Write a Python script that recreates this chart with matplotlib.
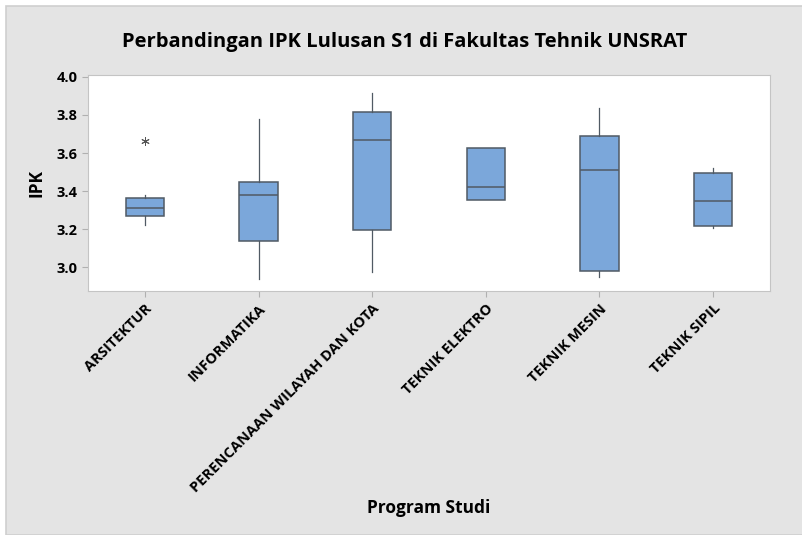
import matplotlib.pyplot as plt
from matplotlib.patches import Rectangle

# Program studi dan ringkasan boxplot IPK
programs = ["ARSITEKTUR", "INFORMATIKA", "PERENCANAAN WILAYAH DAN KOTA",
            "TEKNIK ELEKTRO", "TEKNIK MESIN", "TEKNIK SIPIL"]
q1 = [3.268, 3.137, 3.195, 3.353, 2.980, 3.216]
median = [3.312, 3.380, 3.668, 3.420, 3.510, 3.347]
q3 = [3.363, 3.447, 3.816, 3.626, 3.689, 3.494]
whisker_low = [3.224, 2.937, 2.974, 3.353, 2.947, 3.205]
whisker_high = [3.380, 3.780, 3.916, 3.626, 3.837, 3.520]
outliers = [[3.665], [], [], [], [], []]

plt.rcParams['font.family'] = ['Open Sans', 'DejaVu Sans']

stats = []
for i, name in enumerate(programs):
    stats.append({
        "label": name,
        "q1": q1[i], "med": median[i], "q3": q3[i],
        "whislo": whisker_low[i], "whishi": whisker_high[i],
        "fliers": outliers[i],
    })

fig = plt.figure(figsize=(8.02, 5.35), dpi=100)
fig.patch.set_facecolor('white')
# grey chart background, offset like the Minitab export
fig.patches.append(Rectangle((6 / 802, 0), 1, 1 - 6 / 535, transform=fig.transFigure,
                             facecolor='#e4e4e4', edgecolor='#cfcfcf', linewidth=1.2, zorder=-10))

ax = fig.add_axes([88 / 802, 1 - 291 / 535, (770 - 88) / 802, (291 - 75) / 535])
ax.set_zorder(1)
ax.set_facecolor('white')

ax.bxp(stats, positions=range(1, 7), widths=0.34, patch_artist=True, showcaps=False,
       boxprops=dict(facecolor='#7ba7da', edgecolor='#505a64', linewidth=1.1),
       medianprops=dict(color='#505a64', linewidth=1.1),
       whiskerprops=dict(color='#505a64', linewidth=0.9),
       flierprops=dict(marker=(6, 2, 0), markersize=6, markeredgecolor='#555555',
                       markeredgewidth=0.7, linestyle='none'))

ax.set_xlim(0.5, 6.5)
ax.set_ylim(2.875, 4.01)
ax.set_yticks([3.0, 3.2, 3.4, 3.6, 3.8, 4.0])
ax.set_yticklabels(["3.0", "3.2", "3.4", "3.6", "3.8", "4.0"], fontsize=10.5, fontweight='bold')
ax.set_xticks(range(1, 7))
ax.set_xticklabels(programs, rotation=45, ha='right', rotation_mode='anchor',
                   fontsize=10.5, fontweight='bold')

for s in ax.spines.values():
    s.set_color('#c4c4c4')
ax.tick_params(colors='#b0b0b0', length=4, width=0.8, labelcolor='black')

ax.set_ylabel("IPK", fontsize=12.5, fontweight='bold', labelpad=8)
fig.text(429 / 802, 1 - 508 / 535, "Program Studi", ha='center', va='center',
         fontsize=12.5, fontweight='bold')
fig.text(405 / 802, 1 - 42 / 535, "Perbandingan IPK Lulusan S1 di Fakultas Tehnik UNSRAT",
         ha='center', va='center', fontsize=14.5, fontweight='bold')

fig.savefig("out.png", dpi=100, facecolor=fig.get_facecolor())
